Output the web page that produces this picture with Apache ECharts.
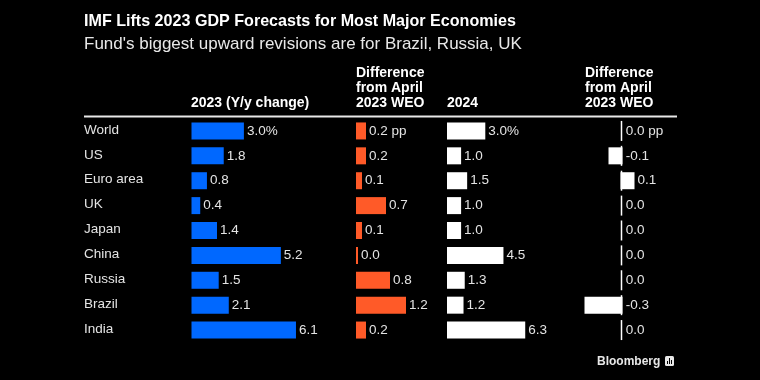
<!DOCTYPE html>
<html>
<head>
<meta charset="utf-8">
<style>
  html, body { margin: 0; padding: 0; background: #000; }
  #chart { width: 760px; height: 380px; }
</style>
<script src="https://cdn.jsdelivr.net/npm/echarts@6/dist/echarts.min.js"></script>
</head>
<body>
<div id="chart"></div>
<script>
const regions = ['World', 'US', 'Euro area', 'UK', 'Japan', 'China', 'Russia', 'Brazil', 'India'];
const gdp2023 = [3.0, 1.8, 0.8, 0.4, 1.4, 5.2, 1.5, 2.1, 6.1];
const diff2023 = [0.2, 0.2, 0.1, 0.7, 0.1, 0.0, 0.8, 1.2, 0.2];
const gdp2024 = [3.0, 1.0, 1.5, 1.0, 1.0, 4.5, 1.3, 1.2, 6.3];
const diff2024 = [0.0, -0.1, 0.1, 0.0, 0.0, 0.0, 0.0, -0.3, 0.0];
const gdp2023Labels = ['3.0%', '1.8', '0.8', '0.4', '1.4', '5.2', '1.5', '2.1', '6.1'];
const diff2023Labels = ['0.2 pp', '0.2', '0.1', '0.7', '0.1', '0.0', '0.8', '1.2', '0.2'];
const gdp2024Labels = ['3.0%', '1.0', '1.5', '1.0', '1.0', '4.5', '1.3', '1.2', '6.3'];
const diff2024Labels = ['0.0 pp', '-0.1', '0.1', '0.0', '0.0', '0.0', '0.0', '-0.3', '0.0'];

const FONT = '"Liberation Sans", Arial, sans-serif';
const TEXT = '#e4e4e4';
const ROW_TOP = 118.5;
const ROW_H = 224;
const BAR_H = 17;
const BAR_PAD = 1; // reference bars carry a 1px outline, so even 0.0 shows up

// one grid per column, width picked so px-per-unit matches the picture
const panels = [
  { left: 192.5, width: 117.6, min: 0, max: 7, values: gdp2023, labels: gdp2023Labels, color: '#0068ff' },
  { left: 357, width: 80, min: 0, max: 2, values: diff2023, labels: diff2023Labels, color: '#ff5a28' },
  { left: 448, width: 96.8, min: 0, max: 8, values: gdp2024, labels: gdp2024Labels, color: '#ffffff' },
  { left: 573.5, width: 72, min: -0.4, max: 0.2, values: diff2024, labels: diff2024Labels, color: '#ffffff' }
];

const headers = [
  { x: 191, lines: ['2023 (Y/y change)'] },
  { x: 356, lines: ['Difference', 'from April', '2023 WEO'] },
  { x: 447, lines: ['2024'] },
  { x: 585, lines: ['Difference', 'from April', '2023 WEO'] }
];

const headerTitles = headers.map(h => ({
  text: h.lines.join('\n'),
  left: h.x,
  bottom: 380 - 111,
  padding: 0,
  textStyle: { color: '#fff', fontFamily: FONT, fontSize: 14, fontWeight: 'bold', lineHeight: 15 }
}));

function barRenderer(panel, hideLabelAtOrBelowZero) {
  return function (params, api) {
    const v = api.value(0);
    const row = api.value(1);
    const start = api.coord([0, row]);
    const end = api.coord([v, row]);
    const left = Math.min(start[0], end[0]) - BAR_PAD;
    const right = Math.max(start[0], end[0]) + BAR_PAD;
    const hideBar = hideLabelAtOrBelowZero && v === 0;
    const label = hideLabelAtOrBelowZero && v <= 0 ? '' : panel.labels[params.dataIndex];
    return {
      type: 'rect',
      shape: { x: left, y: start[1] - BAR_H / 2, width: hideBar ? 0 : right - left, height: BAR_H },
      style: { fill: panel.color },
      textContent: {
        type: 'text',
        style: { text: label, fill: TEXT, font: '13.5px ' + FONT }
      },
      textConfig: { position: 'right', distance: 3 }
    };
  };
}

const series = panels.map((p, i) => ({
  type: 'custom',
  xAxisIndex: i,
  yAxisIndex: i,
  silent: true,
  encode: { x: 0, y: 1 },
  data: p.values.map((v, row) => [v, row]),
  renderItem: barRenderer(p, i === 3)
}));

// short zero line per row in the last column, zero and negative labels hang off it
series.push({
  type: 'scatter',
  xAxisIndex: 3,
  yAxisIndex: 3,
  data: regions.map((r, row) => [0, row]),
  silent: true,
  symbol: 'rect',
  symbolSize: [1.5, 20],
  itemStyle: { color: '#fff', opacity: 1 },
  label: {
    show: true,
    position: 'right',
    distance: 3.5,
    color: TEXT,
    fontFamily: FONT,
    fontSize: 13.5,
    formatter: d => diff2024[d.dataIndex] <= 0 ? diff2024Labels[d.dataIndex] : ''
  }
});

const option = {
  backgroundColor: '#000',
  animation: false,
  title: [
    {
      text: 'IMF Lifts 2023 GDP Forecasts for Most Major Economies',
      left: 84,
      top: 14,
      padding: 0,
      textStyle: { color: '#fff', fontFamily: FONT, fontSize: 16.1, fontWeight: 'bold' }
    },
    {
      text: "Fund's biggest upward revisions are for Brazil, Russia, UK",
      left: 84,
      top: 36,
      padding: 0,
      textStyle: { color: '#e8e8e8', fontFamily: FONT, fontSize: 17, fontWeight: 'normal' }
    },
    ...headerTitles,
    {
      text: 'Bloomberg',
      left: 597,
      top: 356,
      padding: 0,
      textStyle: { color: '#e8e8e8', fontFamily: FONT, fontSize: 12, fontWeight: 'bold' }
    }
  ],
  grid: panels.map(p => ({ left: p.left, width: p.width, top: ROW_TOP, height: ROW_H })),
  xAxis: panels.map((p, i) => ({
    gridIndex: i,
    type: 'value',
    min: p.min,
    max: p.max,
    show: false
  })),
  yAxis: panels.map((p, i) => ({
    gridIndex: i,
    type: 'category',
    data: regions,
    inverse: true,
    show: i === 0,
    axisLine: { show: false },
    axisTick: { show: false },
    axisLabel: {
      color: TEXT,
      fontFamily: FONT,
      fontSize: 13.5,
      align: 'left',
      margin: 108.5,
      verticalAlign: 'bottom',
      lineHeight: 2
    }
  })),
  series,
  graphic: [
    {
      type: 'line',
      shape: { x1: 84, y1: 116.5, x2: 677, y2: 116.5 },
      style: { stroke: '#e8e8e8', lineWidth: 2 }
    },
    // logo mark next to the wordmark
    { type: 'rect', shape: { x: 665, y: 356, width: 9, height: 10, r: 1.5 }, style: { fill: '#e8e8e8' } },
    { type: 'rect', shape: { x: 667, y: 361, width: 1, height: 3 }, style: { fill: '#000' } },
    { type: 'rect', shape: { x: 669, y: 358, width: 1, height: 6 }, style: { fill: '#000' } },
    { type: 'rect', shape: { x: 671, y: 360, width: 1, height: 4 }, style: { fill: '#000' } }
  ]
};

const chart = echarts.init(document.getElementById('chart'), null, { renderer: 'canvas' });
chart.setOption(option);
</script>
</body>
</html>
